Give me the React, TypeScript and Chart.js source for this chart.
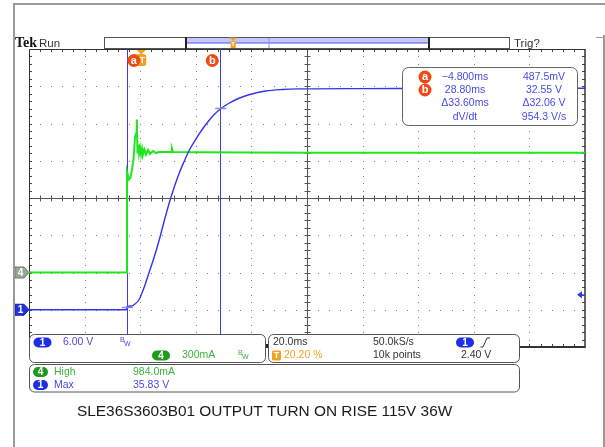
import React, { useEffect, useRef } from "react";
import { Chart, registerables } from "chart.js";

Chart.register(...registerables);

// ---- data ----
const ch1TimeMs = [-40, -4.93, -4.75, -2.95, -2.23, -0.43, 1.37, 3.17, 4.96, 6.76, 8.56, 10.36, 12.16, 13.96, 15.76, 17.55, 20.07, 23.67, 26.55, 29.32, 31.94, 35.54, 39.14, 45.14, 51.0, 57.12, 80, 110, 160];
const ch1Volts = [0, 0, 0.48, 0.62, 0.81, 1.61, 3.54, 5.96, 8.38, 11.11, 14.17, 17.07, 19.65, 21.91, 23.84, 25.61, 27.54, 29.88, 31.41, 32.49, 33.26, 34.07, 34.63, 35.23, 35.47, 35.57, 35.62, 35.66, 35.68];

const ch4TimeMs = [-40, -4.85, -4.75, -4.57, -4.03, -3.49, -2.95, -2.41, -1.87, -1.51, -1.22, -0.97, -0.68, -0.43, -0.07, 0.29, 0.65, 1.0, 1.55, 2.09, 2.81, 3.5, 4.6, 5.7, 6.76, 11.08, 11.4, 11.8, 21.15, 60, 110, 160];
const ch4Amps = [0, 0, 0.813, 0.797, 0.749, 0.765, 0.83, 0.91, 1.087, 1.12, 1.232, 0.958, 1.031, 0.958, 1.007, 0.95, 0.999, 0.95, 0.99, 0.95, 0.987, 0.954, 0.979, 0.962, 0.97, 0.97, 0.999, 0.97, 0.968, 0.965, 0.965, 0.965];

const timeRangeMs = [-40, 160];
const ch1RangeV = [-6, 42];
const ch4RangeA = [-0.6, 1.8];

const cursorNames = ["a", "b"];
const cursorTimesMs = [-4.8, 28.8];
const cursorLevelsV = [0.4875, 32.55];
const readoutTimes = ["\u22124.800ms", "28.80ms", "\u039433.60ms", "dV/dt"];
const readoutValues = ["487.5mV", "32.55 V", "\u039432.06 V", "954.3 V/s"];

const triggerTimeMs = 0;
const triggerLevelV = 2.4;

const ch1Scale = "6.00 V";
const ch4Scale = "300mA";
const horizScale = "20.0ms";
const sampleRate = "50.0kS/s";
const triggerPos = "20.20 %";
const recordLen = "10k points";
const trigLevelText = "2.40 V";
const measLabels = ["High", "Max"];
const measValues = ["984.0mA", "35.83 V"];
const title = "SLE36S3603B01 OUTPUT TURN ON RISE 115V 36W";

const BLUE = "#3434ea";
const BLUE_TXT = "#4a4ae6";
const GREEN = "#1fe61f";
const GREEN_TXT = "#3cb43c";
const ORANGE = "#f5a020";
const RED = "#f04a14";
const FONT = "'Liberation Sans', Arial, sans-serif";

function rr(ctx: CanvasRenderingContext2D, x: number, y: number, w: number, h: number, r: number) {
  ctx.beginPath();
  ctx.moveTo(x + r, y);
  ctx.lineTo(x + w - r, y);
  ctx.arcTo(x + w, y, x + w, y + r, r);
  ctx.lineTo(x + w, y + h - r);
  ctx.arcTo(x + w, y + h, x + w - r, y + h, r);
  ctx.lineTo(x + r, y + h);
  ctx.arcTo(x, y + h, x, y + h - r, r);
  ctx.lineTo(x, y + r);
  ctx.arcTo(x, y, x + r, y, r);
  ctx.closePath();
}

function txt(ctx: CanvasRenderingContext2D, s: string, x: number, y: number, color: string, font: string, align: CanvasTextAlign = "left") {
  ctx.fillStyle = color;
  ctx.font = font;
  ctx.textAlign = align;
  ctx.textBaseline = "middle";
  ctx.fillText(s, x, y);
}

function pill(ctx: CanvasRenderingContext2D, cx: number, cy: number, w: number, h: number, fill: string, label: string) {
  rr(ctx, cx - w / 2, cy - h / 2, w, h, h / 2);
  ctx.fillStyle = fill;
  ctx.fill();
  txt(ctx, label, cx, cy + 0.5, "#fff", `bold 10px ${FONT}`, "center");
}

function circleBadge(ctx: CanvasRenderingContext2D, cx: number, cy: number, label: string) {
  ctx.beginPath();
  ctx.arc(cx, cy, 6.5, 0, Math.PI * 2);
  ctx.fillStyle = RED;
  ctx.fill();
  txt(ctx, label, cx, cy, "#fff", `bold 11px ${FONT}`, "center");
}

function bwMark(ctx: CanvasRenderingContext2D, x: number, y: number, color: string) {
  txt(ctx, "B", x, y - 2, color, `7px ${FONT}`);
  txt(ctx, "W", x + 4, y + 2, color, `7px ${FONT}`);
}

const scopePlugin = {
  id: "scope",
  beforeDraw(chart: any) {
    const ctx = chart.ctx as CanvasRenderingContext2D;
    ctx.save();
    ctx.fillStyle = "#fff";
    ctx.fillRect(0, 0, chart.width, chart.height);
    ctx.restore();
  },
  beforeDatasetsDraw(chart: any) {
    const ctx = chart.ctx as CanvasRenderingContext2D;
    const a = chart.chartArea;
    const L = a.left, T = a.top, R = a.right, B = a.bottom;
    const dx = (R - L) / 10, dy = (B - T) / 8;
    ctx.save();
    // dotted graticule
    ctx.fillStyle = "#7c7c7c";
    for (let i = 1; i < 10; i++) {
      if (i === 5) continue;
      const x = Math.round(L + i * dx);
      for (let k = 1; k < 40; k++) ctx.fillRect(x, Math.round(T + (k * dy) / 5), 1, 1);
    }
    for (let j = 1; j < 8; j++) {
      if (j === 4) continue;
      const y = Math.round(T + j * dy);
      for (let k = 1; k < 50; k++) ctx.fillRect(Math.round(L + (k * dx) / 5), y, 1, 1);
    }
    // center crosshair with ticks
    ctx.strokeStyle = "#555";
    ctx.lineWidth = 1;
    const cx = Math.round(L + 5 * dx) + 0.5, cy = Math.round(T + 4 * dy) + 0.5;
    ctx.beginPath();
    ctx.moveTo(cx, T); ctx.lineTo(cx, B);
    ctx.moveTo(L, cy); ctx.lineTo(R, cy);
    for (let k = 1; k < 40; k++) {
      const y = Math.round(T + (k * dy) / 5) + 0.5;
      ctx.moveTo(cx - 3, y); ctx.lineTo(cx + 3, y);
    }
    for (let k = 1; k < 50; k++) {
      const x = Math.round(L + (k * dx) / 5) + 0.5;
      ctx.moveTo(x, cy - 3); ctx.lineTo(x, cy + 3);
    }
    ctx.stroke();
    // border ticks
    ctx.strokeStyle = "#444";
    ctx.beginPath();
    for (let k = 1; k < 50; k++) {
      const x = Math.round(L + (k * dx) / 5) + 0.5;
      ctx.moveTo(x, T); ctx.lineTo(x, T + 3);
      ctx.moveTo(x, B); ctx.lineTo(x, B - 3);
    }
    for (let k = 1; k < 40; k++) {
      const y = Math.round(T + (k * dy) / 5) + 0.5;
      ctx.moveTo(L, y); ctx.lineTo(L + 3, y);
      ctx.moveTo(R, y); ctx.lineTo(R - 3, y);
    }
    ctx.stroke();
    // border
    ctx.strokeStyle = "#333";
    ctx.lineWidth = 1;
    ctx.beginPath();
    ctx.moveTo(L + 0.5, B); ctx.lineTo(L + 0.5, T + 0.5); ctx.lineTo(R, T + 0.5);
    ctx.stroke();
    ctx.lineWidth = 1.5;
    ctx.beginPath();
    ctx.moveTo(R, T); ctx.lineTo(R, B);
    ctx.stroke();
    ctx.lineWidth = 2;
    ctx.beginPath();
    ctx.moveTo(L, B); ctx.lineTo(R + 0.75, B);
    ctx.stroke();
    // cursors
    const xs = chart.scales.x;
    ctx.strokeStyle = "#3c3cf0";
    ctx.lineWidth = 1;
    ctx.beginPath();
    cursorTimesMs.forEach((t) => {
      const x = Math.round(xs.getPixelForValue(t)) + 0.5;
      ctx.moveTo(x, T); ctx.lineTo(x, B);
    });
    ctx.stroke();
    ctx.restore();
  },
  afterDatasetsDraw(chart: any) {
    const ctx = chart.ctx as CanvasRenderingContext2D;
    const a = chart.chartArea;
    const L = a.left, T = a.top, R = a.right;
    const xs = chart.scales.x, y1 = chart.scales.y1, y4 = chart.scales.y4;
    ctx.save();

    // cursor level marks
    ctx.strokeStyle = "#8a8af5";
    ctx.lineWidth = 1.5;
    cursorTimesMs.forEach((t, i) => {
      const x = xs.getPixelForValue(t);
      const y = Math.round(y1.getPixelForValue(cursorLevelsV[i])) + 0.5;
      ctx.beginPath();
      ctx.moveTo(x - 5, y); ctx.lineTo(x + 6, y);
      ctx.stroke();
    });

    // trigger position markers at top
    const tx = xs.getPixelForValue(triggerTimeMs) + 1;
    ctx.fillStyle = ORANGE;
    ctx.beginPath();
    ctx.moveTo(tx - 4.5, T + 1); ctx.lineTo(tx + 4.5, T + 1); ctx.lineTo(tx, T + 5.5);
    ctx.closePath(); ctx.fill();
    rr(ctx, tx - 5, T + 5, 10, 12, 2.5);
    ctx.fillStyle = ORANGE; ctx.fill();
    txt(ctx, "T", tx + 1, T + 11.5, "#fff", `bold 9px ${FONT}`, "center");
    cursorTimesMs.forEach((t, i) => {
      const x = xs.getPixelForValue(t);
      circleBadge(ctx, i === 0 ? x + 7 : x - 8, T + 11.5, cursorNames[i]);
    });

    // left channel markers
    const markers = [
      { y: y4.getPixelForValue(0), fill: "#97a797", stroke: "#6d7d6d", label: "4" },
      { y: y1.getPixelForValue(0), fill: "#2233dd", stroke: "#1522a8", label: "1" },
    ];
    markers.forEach((m) => {
      ctx.beginPath();
      ctx.moveTo(15, m.y - 5.5); ctx.lineTo(24, m.y - 5.5); ctx.lineTo(L, m.y);
      ctx.lineTo(24, m.y + 5.5); ctx.lineTo(15, m.y + 5.5); ctx.closePath();
      ctx.fillStyle = m.fill; ctx.fill();
      ctx.strokeStyle = m.stroke; ctx.lineWidth = 1; ctx.stroke();
      txt(ctx, m.label, 20.5, m.y + 0.5, "#fff", `bold 10px ${FONT}`, "center");
    });

    // trigger level arrow (right)
    const ty = y1.getPixelForValue(triggerLevelV);
    ctx.fillStyle = "#2a3ae8";
    ctx.beginPath();
    ctx.moveTo(R - 8, ty); ctx.lineTo(R - 3, ty - 3.5); ctx.lineTo(R - 3, ty + 3.5); ctx.closePath(); ctx.fill();
    ctx.fillRect(R - 4, ty - 0.5, 4, 1.5);

    // cursor readout box
    rr(ctx, 402.5, 67.5, 175, 58, 6);
    ctx.fillStyle = "#fff"; ctx.fill();
    ctx.strokeStyle = "#666"; ctx.lineWidth = 1; ctx.stroke();
    const rows = [77, 90, 103.5, 117];
    rows.forEach((y, i) => {
      if (i < 2) circleBadge(ctx, 425, y, cursorNames[i]);
      txt(ctx, readoutTimes[i], 465, y, BLUE_TXT, `10.5px ${FONT}`, "center");
      txt(ctx, readoutValues[i], 544, y, BLUE_TXT, `10.5px ${FONT}`, "center");
    });

    // bottom panels
    ctx.strokeStyle = "#555"; ctx.lineWidth = 1;
    rr(ctx, 29.5, 334.5, 236, 28, 5); ctx.fillStyle = "#fff"; ctx.fill(); ctx.stroke();
    rr(ctx, 268.5, 334.5, 251, 28, 5); ctx.fillStyle = "#fff"; ctx.fill(); ctx.stroke();
    rr(ctx, 29.5, 364.5, 490, 27.5, 5); ctx.fillStyle = "#fff"; ctx.fill(); ctx.stroke();
    ctx.fillStyle = "#222"; ctx.fillRect(266, 344, 2, 3);

    const f = `10.5px ${FONT}`;
    pill(ctx, 42.5, 342.5, 18, 10, "#1f2fe6", "1");
    txt(ctx, ch1Scale, 63, 342.5, BLUE_TXT, f);
    bwMark(ctx, 120, 342, BLUE_TXT);
    pill(ctx, 161, 355.5, 18, 10, "#1f9a1f", "4");
    txt(ctx, ch4Scale, 182, 355.5, GREEN_TXT, f);
    bwMark(ctx, 238, 355, GREEN_TXT);

    txt(ctx, horizScale, 273, 342.5, "#333", f);
    rr(ctx, 272, 350.5, 9, 10, 1.5); ctx.fillStyle = ORANGE; ctx.fill();
    txt(ctx, "T", 276.5, 356, "#fff", `bold 9px ${FONT}`, "center");
    txt(ctx, triggerPos, 284, 355.5, ORANGE, f);
    txt(ctx, sampleRate, 373, 342.5, "#333", f);
    txt(ctx, recordLen, 373, 355.5, "#333", f);
    pill(ctx, 465, 342.5, 18, 10, "#1f2fe6", "1");
    ctx.strokeStyle = "#333"; ctx.lineWidth = 1;
    ctx.beginPath();
    ctx.moveTo(480.5, 347); ctx.lineTo(483, 347); ctx.lineTo(487, 338); ctx.lineTo(490, 338);
    ctx.stroke();
    txt(ctx, trigLevelText, 461, 355.5, "#333", f);

    pill(ctx, 40.5, 372, 15, 10, "#1f9a1f", "4");
    txt(ctx, measLabels[0], 54, 372.5, GREEN_TXT, f);
    txt(ctx, measValues[0], 133, 372.5, GREEN_TXT, f);
    pill(ctx, 40.5, 385, 15, 10, "#1f2fe6", "1");
    txt(ctx, measLabels[1], 54, 385.5, BLUE_TXT, f);
    txt(ctx, measValues[1], 133, 385.5, BLUE_TXT, f);

    // header
    txt(ctx, "Tek", 15, 43.5, "#111", `bold 14px 'Liberation Serif', serif`);
    txt(ctx, "Run", 39, 43.5, "#333", `11.5px ${FONT}`);
    txt(ctx, "Trig?", 514, 43.5, "#333", `11.5px ${FONT}`);
    ctx.fillStyle = "#fff";
    ctx.fillRect(104, 37, 406, 11);
    ctx.fillStyle = "#c4c7fa";
    ctx.fillRect(187, 38, 242, 6);
    ctx.fillStyle = "#8a8ff2";
    ctx.fillRect(187, 42, 242, 1.5);
    ctx.fillRect(268.5, 37, 1, 11);
    ctx.strokeStyle = "#555"; ctx.lineWidth = 1;
    ctx.strokeRect(104.5, 37.5, 405, 11);
    ctx.fillStyle = "#222";
    ctx.fillRect(185, 37, 2, 12);
    ctx.fillRect(428, 37, 2, 12);
    const bx = tx + 92;
    ctx.fillStyle = ORANGE;
    ctx.beginPath();
    ctx.moveTo(bx - 3.5, 37.5); ctx.lineTo(bx + 3.5, 37.5); ctx.lineTo(bx, 41); ctx.closePath(); ctx.fill();
    ctx.fillRect(bx - 2.5, 41, 5, 7);
    txt(ctx, "T", bx, 44.5, "#fff", `bold 6px ${FONT}`, "center");

    // outer frame
    ctx.strokeStyle = "#9a9a9a"; ctx.lineWidth = 2;
    ctx.beginPath();
    ctx.moveTo(14, 447); ctx.lineTo(14, 4); ctx.lineTo(605, 4);
    ctx.moveTo(604, 35); ctx.lineTo(604, 447);
    ctx.stroke();
    ctx.lineWidth = 1;
    ctx.beginPath(); ctx.moveTo(596, 37.5); ctx.lineTo(604, 37.5); ctx.stroke();

    // caption
    txt(ctx, title, 77, 411.5, "#1a1a1a", `15.4px ${FONT}`);
    ctx.restore();
  },
};

export default function App() {
  const ref = useRef<HTMLCanvasElement | null>(null);
  useEffect(() => {
    if (!ref.current) return;
    const chart = new Chart(ref.current, {
      type: "line",
      data: {
        datasets: [
          {
            label: "CH1 (V)",
            data: ch1TimeMs.map((t, i) => ({ x: t, y: ch1Volts[i] })),
            yAxisID: "y1",
            borderColor: BLUE,
            borderWidth: 1.4,
            pointRadius: 0,
            cubicInterpolationMode: "monotone",
          },
          {
            label: "CH4 (A)",
            data: ch4TimeMs.map((t, i) => ({ x: t, y: ch4Amps[i] })),
            yAxisID: "y4",
            borderColor: GREEN,
            borderWidth: 2,
            pointRadius: 0,
            tension: 0,
          },
        ],
      },
      options: {
        animation: false,
        responsive: false,
        devicePixelRatio: 1,
        layout: { padding: { left: 29, top: 49, right: 20, bottom: 100 } },
        scales: {
          x: { type: "linear", min: timeRangeMs[0], max: timeRangeMs[1], display: false },
          y1: { type: "linear", min: ch1RangeV[0], max: ch1RangeV[1], display: false },
          y4: { type: "linear", min: ch4RangeA[0], max: ch4RangeA[1], display: false },
        },
        plugins: { legend: { display: false }, tooltip: { enabled: false }, title: { display: false } },
      },
      plugins: [scopePlugin],
    } as any);
    return () => chart.destroy();
  }, []);
  return (
    <div style={{ position: "absolute", left: 0, top: 0, width: 605, height: 447 }}>
      <canvas ref={ref} width={605} height={447} style={{ display: "block" }} />
    </div>
  );
}
